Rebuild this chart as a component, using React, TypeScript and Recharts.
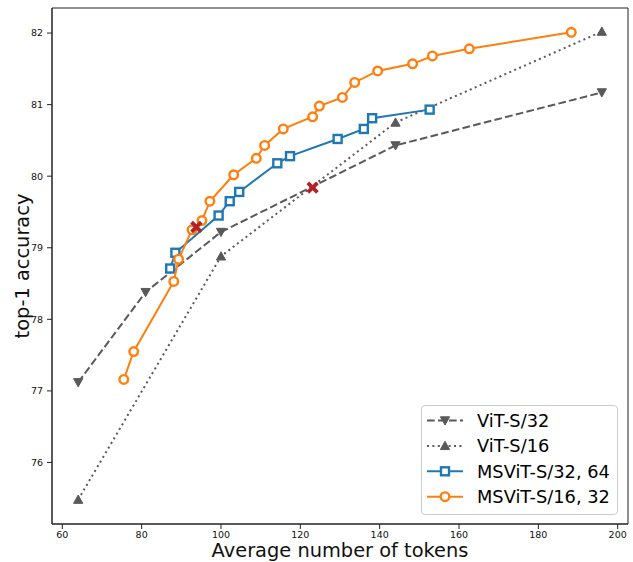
import React from 'react';
import { ComposedChart, Scatter, XAxis, YAxis, ReferenceArea, Legend } from 'recharts';

// ---- data ----
const vitS32X = [64, 81, 100, 144, 196];
const vitS32Y = [77.12, 78.38, 79.22, 80.43, 81.17];

const vitS16X = [64, 100, 144, 196];
const vitS16Y = [75.48, 78.88, 80.75, 82.02];

const msvit3264X = [87.2, 88.5, 99.4, 102.2, 104.6, 114.2, 117.4, 129.4, 136.0, 138.1, 152.6];
const msvit3264Y = [78.71, 78.93, 79.45, 79.65, 79.78, 80.18, 80.28, 80.52, 80.66, 80.81, 80.93];

const msvit1632X = [75.5, 78.0, 88.1, 89.3, 92.7, 95.2, 97.2, 103.2, 108.9, 111.0, 115.7, 123.1, 124.8, 130.6, 133.7, 139.5, 148.3, 153.3, 162.6, 188.3];
const msvit1632Y = [77.16, 77.55, 78.53, 78.84, 79.25, 79.38, 79.65, 80.02, 80.25, 80.43, 80.66, 80.83, 80.98, 81.10, 81.31, 81.47, 81.57, 81.68, 81.78, 82.01];

const crossX = [93.8, 123.1];
const crossY = [79.29, 79.84];

const xTicks = [60, 80, 100, 120, 140, 160, 180, 200];
const yTicks = [76, 77, 78, 79, 80, 81, 82];
const xDomain: [number, number] = [57.4, 202.6];
const yDomain: [number, number] = [75.14, 82.35];

const legendLabels = ['ViT-S/32', 'ViT-S/16', 'MSViT-S/32, 64', 'MSViT-S/16, 32'];

const zip = (xs: number[], ys: number[]) => xs.map((x, i) => ({ x, y: ys[i] }));
const vitS32 = zip(vitS32X, vitS32Y);
const vitS16 = zip(vitS16X, vitS16Y);
const msvit3264 = zip(msvit3264X, msvit3264Y);
const msvit1632 = zip(msvit1632X, msvit1632Y);
const crosses = zip(crossX, crossY);

// ---- styles ----
const GRAY = '#595959';
const BLUE = '#1f77b4';
const ORANGE = '#ff7f0e';
const RED = '#b22222';
const FONT = '"DejaVu Sans", sans-serif';

const TriDown = (cx: number, cy: number) => {
  const s = 4.6;
  return <polygon points={`${cx},${cy + s} ${cx - s},${cy - s * 0.8} ${cx + s},${cy - s * 0.8}`} fill={GRAY} stroke={GRAY} strokeWidth={1} />;
};
const TriUp = (cx: number, cy: number) => {
  const s = 4.6;
  return <polygon points={`${cx},${cy - s} ${cx - s},${cy + s * 0.8} ${cx + s},${cy + s * 0.8}`} fill={GRAY} stroke={GRAY} strokeWidth={1} />;
};
const Square = (cx: number, cy: number) => (
  <rect x={cx - 4} y={cy - 4} width={8} height={8} fill="#fff" stroke={BLUE} strokeWidth={2.4} />
);
const Circle = (cx: number, cy: number) => (
  <circle cx={cx} cy={cy} r={4.3} fill="#fff" stroke={ORANGE} strokeWidth={2.4} />
);
const Cross = (cx: number, cy: number) => {
  const s = 4.8;
  return (
    <g stroke={RED} strokeWidth={3.8}>
      <line x1={cx - s} y1={cy - s} x2={cx + s} y2={cy + s} />
      <line x1={cx - s} y1={cy + s} x2={cx + s} y2={cy - s} />
    </g>
  );
};

const shapeOf = (fn: (cx: number, cy: number) => React.ReactElement) => (p: any) => fn(p.cx, p.cy);

const legendItems = [
  { label: legendLabels[0], color: GRAY, dash: '7.7 3.3', marker: TriDown },
  { label: legendLabels[1], color: GRAY, dash: '2 3.4', marker: TriUp },
  { label: legendLabels[2], color: BLUE, dash: undefined, marker: Square },
  { label: legendLabels[3], color: ORANGE, dash: undefined, marker: Circle },
];

const renderLegend = () => (
  <svg width={198} height={111} style={{ display: 'block', fontFamily: FONT }}>
    <rect x={0.5} y={0.5} width={196} height={109} rx={3.5} fill="#fff" fillOpacity={0.8} stroke="#cccccc" strokeWidth={1} />
    {legendItems.map((it, i) => {
      const y = 15.5 + i * 25.4;
      return (
        <g key={it.label}>
          <line x1={6} y1={y} x2={42} y2={y} stroke={it.color} strokeWidth={2} strokeDasharray={it.dash} />
          {it.marker(24, y)}
          <text x={56} y={y} dy="0.36em" fontSize={17.8} fill="#000">{it.label}</text>
        </g>
      );
    })}
  </svg>
);

export default function App() {
  return (
    <div style={{ position: 'absolute', left: 0, top: 0, fontFamily: FONT }}>
      <ComposedChart width={633} height={562} margin={{ top: 8, right: 5, bottom: 0, left: 0 }} style={{ fontFamily: FONT }}>
        <XAxis
          type="number"
          dataKey="x"
          domain={xDomain}
          ticks={xTicks}
          allowDataOverflow
          height={38}
          tickSize={5}
          tickMargin={2}
          tick={{ fontSize: 9.5, fill: '#111' }}
          tickLine={{ stroke: '#222' }}
          axisLine={{ stroke: '#222' }}
          label={{ value: 'Average number of tokens', position: 'insideBottom', offset: 5, fontSize: 19.4, fill: '#111' }}
        />
        <YAxis
          type="number"
          dataKey="y"
          domain={yDomain}
          ticks={yTicks}
          allowDataOverflow
          width={52}
          tickSize={5}
          tickMargin={4}
          tick={{ fontSize: 9.5, fill: '#111' }}
          tickLine={{ stroke: '#222' }}
          axisLine={{ stroke: '#222' }}
          label={{ value: 'top-1 accuracy', angle: -90, position: 'insideLeft', offset: 22, fontSize: 19.4, fill: '#111', style: { textAnchor: 'middle' } }}
        />
        <ReferenceArea x1={xDomain[0]} x2={xDomain[1]} y1={yDomain[0]} y2={yDomain[1]} fill="none" stroke="#222" strokeWidth={1} ifOverflow="visible" />
        <Scatter
          name={legendLabels[0]}
          data={vitS32}
          line={{ stroke: GRAY, strokeWidth: 2, strokeDasharray: '7.7 3.3' }}
          lineType="joint"
          shape={shapeOf(TriDown)}
          fill={GRAY}
          isAnimationActive={false}
        />
        <Scatter
          name={legendLabels[1]}
          data={vitS16}
          line={{ stroke: GRAY, strokeWidth: 2, strokeDasharray: '2 3.4' }}
          lineType="joint"
          shape={shapeOf(TriUp)}
          fill={GRAY}
          isAnimationActive={false}
        />
        <Scatter
          name={legendLabels[2]}
          data={msvit3264}
          line={{ stroke: BLUE, strokeWidth: 2 }}
          lineType="joint"
          shape={shapeOf(Square)}
          fill={BLUE}
          isAnimationActive={false}
        />
        <Scatter
          name={legendLabels[3]}
          data={msvit1632}
          line={{ stroke: ORANGE, strokeWidth: 2 }}
          lineType="joint"
          shape={shapeOf(Circle)}
          fill={ORANGE}
          isAnimationActive={false}
        />
        <Scatter
          name="marked"
          data={crosses}
          shape={shapeOf(Cross)}
          fill={RED}
          legendType="none"
          isAnimationActive={false}
        />
        <Legend
          layout="vertical"
          align="center"
          verticalAlign="middle"
          content={renderLegend}
          wrapperStyle={{ position: 'absolute', left: 421, top: 405, width: 198, height: 111 }}
        />
      </ComposedChart>
    </div>
  );
}
